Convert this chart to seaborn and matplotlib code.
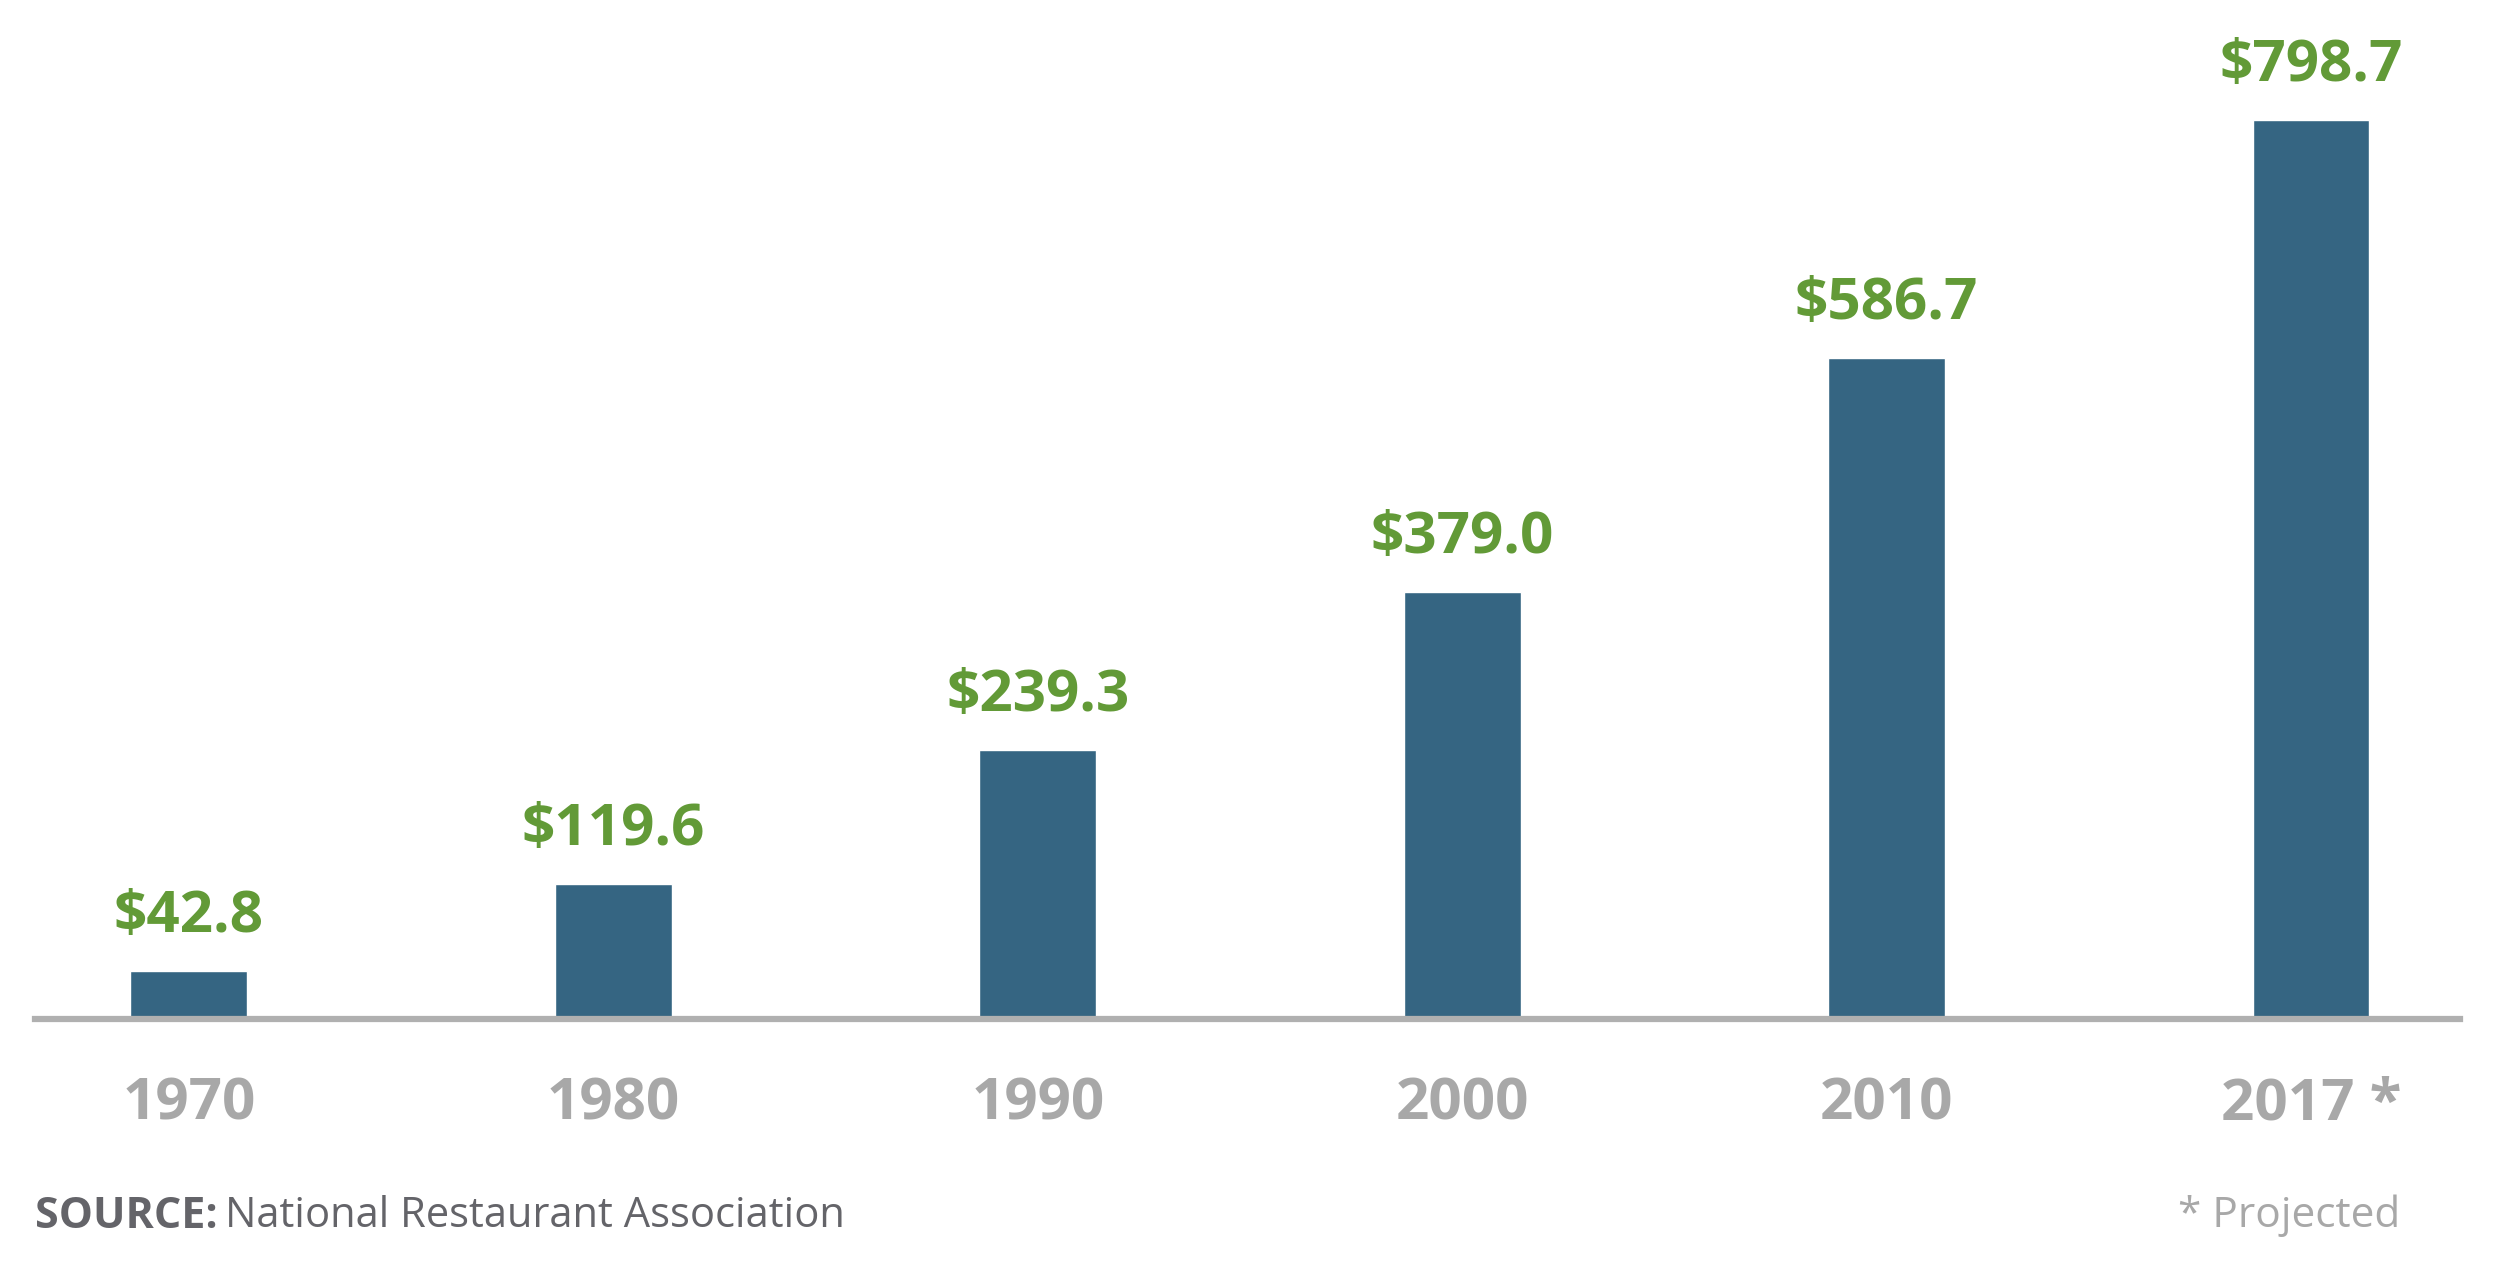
import matplotlib
matplotlib.use("Agg")
import matplotlib.pyplot as plt
import seaborn as sns
import pandas as pd

# Restaurant industry sales, billions of dollars
years = ["1970", "1980", "1990", "2000", "2010", "2017 *"]
sales = [42.8, 119.6, 239.3, 379.0, 586.7, 798.7]
source_label = "SOURCE:"
source_text = "National Restaurant Association"
footnote = "* Projected"

BAR = "#356582"
GREEN = "#629a37"
GRAY = "#a8a8a8"
DARK = "#646469"

sns.set_theme(style="white")
plt.rcParams["font.family"] = ["Open Sans", "DejaVu Sans"]

df = pd.DataFrame({"year": years, "sales": sales})

fig = plt.figure(figsize=(25, 12.83), dpi=100)
ax = fig.add_axes([35 / 2500, 1 - 1019 / 1283, (2460 - 35) / 2500, 1019 / 1283])

sns.barplot(data=df, x="year", y="sales", color=BAR, saturation=1, width=0.275, ax=ax)

ax.set_xlim(-0.3625, 5.351)
ax.set_ylim(0, 905)

# value labels above bars
for cont in ax.containers:
    ax.bar_label(cont, labels=[f"${v:.1f}" for v in sales], padding=18,
                 color=GREEN, fontsize=42, fontweight="bold")

# axes cosmetics
for s in ["top", "right", "left"]:
    ax.spines[s].set_visible(False)
ax.spines["bottom"].set_color("#b0b0b0")
ax.spines["bottom"].set_linewidth(4.5)
ax.set_yticks([])
ax.set_xlabel("")
ax.set_ylabel("")
ax.tick_params(axis="x", length=0, pad=41, labelsize=42, labelcolor=GRAY)
for t in ax.get_xticklabels():
    t.set_fontweight("bold")

# source + footnote
fig.text(35 / 2500, 1 - 1216 / 1283, source_label, fontsize=31, fontweight="bold",
         color=DARK, va="center", ha="left")
fig.text(225 / 2500, 1 - 1216 / 1283, source_text, fontsize=30,
         color=DARK, va="center", ha="left")
fig.text(2400 / 2500, 1 - 1216 / 1283, footnote, fontsize=30.5,
         color=GRAY, va="center", ha="right")

plt.savefig("out.png", dpi=100, facecolor="white")
plt.close()
